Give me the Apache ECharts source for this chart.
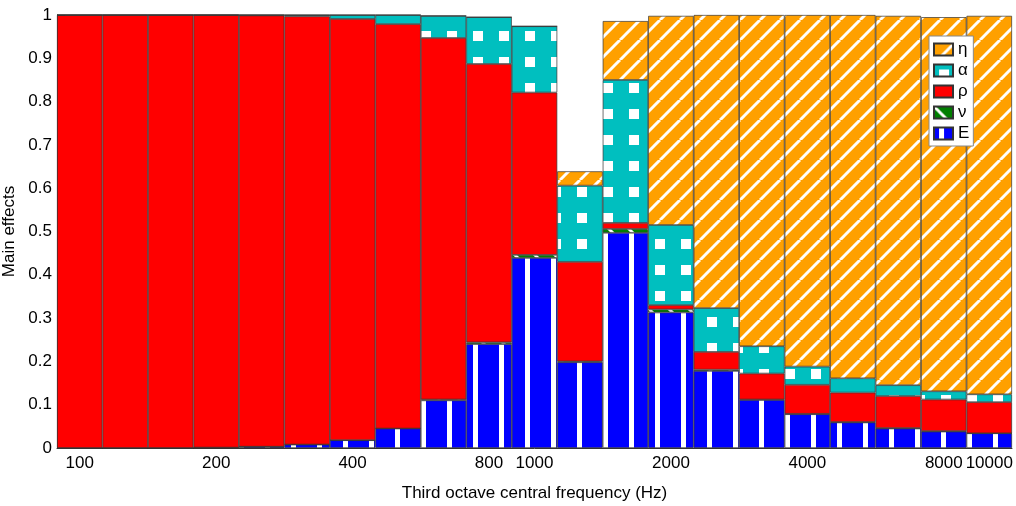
<!DOCTYPE html>
<html>
<head>
<meta charset="utf-8">
<script src="https://cdn.jsdelivr.net/npm/echarts@6/dist/echarts.min.js"></script>
<style>
html,body{margin:0;padding:0;background:#fff;}
#chart{width:1016px;height:506px;}
</style>
</head>
<body>
<div id="chart"></div>
<script>
// Third-octave band centre frequencies (categories)
const categories = ['100','125','160','200','250','315','400','500','630','800','1000','1250','1600','2000','2500','3150','4000','5000','6300','8000','10000'];
// Which categories carry a tick label
const xTickLabels = ['100','200','400','800','1000','2000','4000','8000','10000'];
const yTickLabels = ['0','0.1','0.2','0.3','0.4','0.5','0.6','0.7','0.8','0.9','1'];

// Main effects per parameter (stacked, bottom to top: E, nu, rho, alpha, eta)
const valE     = [0.000,0.000,0.000,0.001,0.003,0.008,0.018,0.045,0.110,0.240,0.439,0.198,0.497,0.313,0.178,0.111,0.078,0.059,0.045,0.038,0.034];
const valNu    = [0.000,0.000,0.000,0.000,0.000,0.000,0.000,0.000,0.002,0.004,0.007,0.002,0.009,0.007,0.003,0.001,0.001,0.001,0.001,0.001,0.000];
const valRho   = [1.000,1.000,1.000,0.999,0.996,0.989,0.973,0.934,0.835,0.643,0.375,0.230,0.014,0.010,0.041,0.060,0.067,0.068,0.074,0.073,0.072];
const valAlpha = [0.000,0.000,0.000,0.000,0.001,0.003,0.009,0.021,0.051,0.108,0.153,0.176,0.330,0.185,0.101,0.063,0.042,0.033,0.025,0.019,0.018];
const valEta   = [0.000,0.000,0.000,0.000,0.000,0.000,0.000,0.000,0.000,0.000,0.000,0.033,0.136,0.483,0.677,0.765,0.812,0.839,0.853,0.864,0.874];

function makePattern(w, h, bg, draw) {
  const c = document.createElement('canvas');
  c.width = w; c.height = h;
  const ctx = c.getContext('2d');
  ctx.fillStyle = bg; ctx.fillRect(0, 0, w, h);
  ctx.fillStyle = '#fff'; ctx.strokeStyle = '#fff';
  draw(ctx, w, h);
  return { image: c, repeat: 'repeat' };
}
const patE = makePattern(26, 26, '#0000FF', (ctx) => { ctx.fillRect(5, 0, 5, 26); });
const patAlpha = makePattern(26, 26, '#00BFBF', (ctx) => { ctx.fillRect(5, 5, 10, 10); });
const patEta = makePattern(20, 20, '#FFA000', (ctx) => {
  ctx.lineWidth = 3;
  for (const k of [-20, 0, 20]) { ctx.beginPath(); ctx.moveTo(k, 20); ctx.lineTo(k + 20, 0); ctx.stroke(); }
});
const patNu = makePattern(20, 20, '#007F00', (ctx) => {
  ctx.lineWidth = 3;
  for (const k of [-20, 0, 20]) { ctx.beginPath(); ctx.moveTo(k, 0); ctx.lineTo(k + 20, 20); ctx.stroke(); }
});

const font = 'Liberation Sans, Arial, Helvetica, sans-serif';

function barSeries(name, data, color) {
  return {
    name: name, type: 'bar', stack: 'total', data: data,
    barCategoryGap: '0%',
    itemStyle: { color: color, borderColor: '#333', borderWidth: 0.7 },
    emphasis: { disabled: true },
    animation: false
  };
}

const chart = echarts.init(document.getElementById('chart'), null, { renderer: 'canvas' });
chart.setOption({
  animation: false,
  textStyle: { fontFamily: font },
  grid: { left: 57, right: 4, top: 15, bottom: 58, containLabel: false, outerBoundsMode: 'none' },
  legend: {
    data: ['η', 'α', 'ρ', 'ν', 'E'],
    orient: 'vertical',
    left: 929, top: 36,
    itemWidth: 19, itemHeight: 12, itemGap: 4,
    icon: 'rect',
    padding: [5, 4, 4, 4],
    backgroundColor: '#fff',
    borderColor: '#888', borderWidth: 1,
    selectedMode: false,
    textStyle: { fontFamily: font, fontSize: 17, color: '#000', lineHeight: 17 }
  },
  xAxis: {
    type: 'category',
    data: categories,
    name: 'Third octave central frequency (Hz)',
    nameLocation: 'middle', nameGap: 37,
    nameTextStyle: { fontFamily: font, fontSize: 17, color: '#000' },
    axisLine: { show: true, lineStyle: { color: '#333', width: 1 } },
    axisTick: { show: false },
    axisLabel: {
      interval: 0, margin: 7, fontSize: 17, color: '#000', fontFamily: font,
      formatter: (v) => xTickLabels.indexOf(v) >= 0 ? v : ''
    },
    splitLine: { show: false }
  },
  yAxis: {
    type: 'value', min: 0, max: 1, interval: 0.1,
    name: 'Main effects',
    nameLocation: 'middle', nameGap: 31,
    nameTextStyle: { fontFamily: font, fontSize: 17, color: '#000' },
    axisLine: { show: true, lineStyle: { color: '#333', width: 1 } },
    axisTick: { show: true, inside: true, length: 8, lineStyle: { color: '#333' } },
    axisLabel: {
      margin: 5, fontSize: 17, color: '#000', fontFamily: font,
      formatter: (v) => yTickLabels[Math.round(v * 10)]
    },
    splitLine: { show: false }
  },
  series: [
    barSeries('E', valE, patE),
    barSeries('ν', valNu, patNu),
    barSeries('ρ', valRho, '#FF0000'),
    barSeries('α', valAlpha, patAlpha),
    barSeries('η', valEta, patEta)
  ]
});
</script>
</body>
</html>
